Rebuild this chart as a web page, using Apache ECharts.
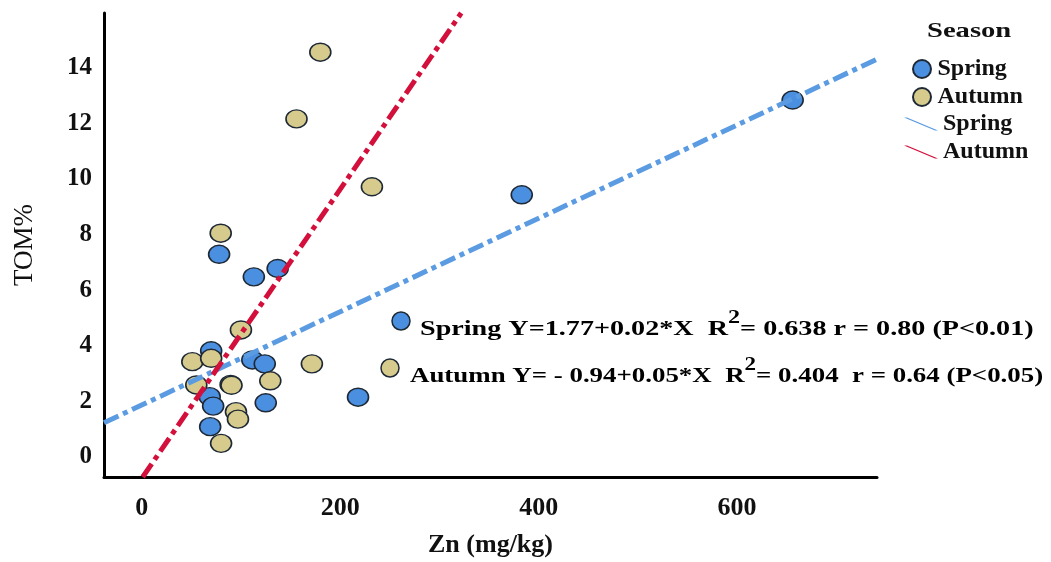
<!DOCTYPE html>
<html>
<head>
<meta charset="utf-8">
<script src="https://cdn.jsdelivr.net/npm/echarts@6/dist/echarts.min.js"></script>
<style>
html,body{margin:0;padding:0;background:#fff}
#chart{width:1051px;height:562px}
</style>
</head>
<body>
<div id="chart"></div>
<script>
// Zn (mg/kg) vs TOM%
var springPoints = [[70,3.82],[111.5,3.49],[124,3.35],[68.5,2.17],[72,1.83],[125,1.95],[69,1.09],[218,2.15],[78,7.29],[113,6.48],[137,6.78],[383,9.43],[656,12.84]];
var autumnPoints = [[100,4.57],[51,3.43],[70,3.55],[55,2.59],[89.6,2.61],[90.5,2.58],[129.6,2.74],[171.5,3.35],[95,1.63],[97,1.36],[80,0.49],[180,14.56],[156,12.16],[232,9.72],[79.6,8.05]];
// fitted lines, end points as drawn
var springFit = [[-38,1.23],[741,14.31]];
var autumnFit = [[1,-0.72],[322,15.97]];
var xTicks = [0,200,400,600];
var yTicks = [0,2,4,6,8,10,12,14];
var springNote = ['Spring Y=1.77+0.02*X  R', '2', '= 0.638 r = 0.80 (P<0.01)'];
var autumnNote = ['Autumn Y= - 0.94+0.05*X  R', '2', '= 0.404  r = 0.64 (P<0.05)'];

var serif = '"Liberation Serif", "Times New Roman", serif';
var blue = '#4a8fe0', tan = '#d6cb8d', edge = '#1e2935';
var blueLine = '#5b9be2', redLine = '#d3103c';

function noteText(parts){
	return '{b|' + parts[0] + '}{s|' + parts[1] + '}{b|' + parts[2] + '}';
}
var noteRich = {
	b: {fontFamily: serif, fontWeight: 'bold', fontSize: 21, color: '#111'},
	s: {fontFamily: serif, fontWeight: 'bold', fontSize: 18, color: '#111', padding: [0,0,24,0]}
};

var chart = echarts.init(document.getElementById('chart'));
chart.setOption({
	animation: false,
	backgroundColor: '#fff',
	grid: {left: 104, right: 174, top: 13, bottom: 85, containLabel: false, outerBoundsMode: 'none'},
	xAxis: {
		type: 'value', min: -38, max: 741,
		name: 'Zn (mg/kg)', nameLocation: 'middle', nameGap: 55,
		nameTextStyle: {fontFamily: serif, fontWeight: 'bold', fontSize: 26, color: '#111'},
		axisLine: {show: true, onZero: false, lineStyle: {color: '#000', width: 3}},
		axisTick: {show: false},
		splitLine: {show: false},
		axisLabel: {customValues: xTicks, margin: 18, fontFamily: serif, fontWeight: 'bold', fontSize: 26, color: '#111'}
	},
	yAxis: {
		type: 'value', min: -0.72, max: 15.97,
		name: 'TOM%', nameLocation: 'middle', nameGap: 66,
		nameTextStyle: {fontFamily: serif, fontSize: 27, color: '#111'},
		axisLine: {show: true, onZero: false, lineStyle: {color: '#000', width: 3}},
		axisTick: {show: false},
		splitLine: {show: false},
		axisLabel: {customValues: yTicks, margin: 12, fontFamily: serif, fontWeight: 'bold', fontSize: 25, color: '#111'}
	},
	legend: [{
		data: ['Spring', 'Autumn'],
		orient: 'vertical', left: 907, top: 52,
		icon: 'circle', itemWidth: 21, itemHeight: 18, itemGap: 4,
		textStyle: {fontFamily: serif, fontWeight: 'bold', fontSize: 24, color: '#111'}
	}, {
		data: ['Spring fit', 'Autumn fit'],
		orient: 'vertical', left: 899, top: 107,
		icon: 'path://M0,0 L3,0 L34,13 L31,13 Z', itemWidth: 34, itemHeight: 13, itemGap: 4,
		formatter: function (n) { return n.replace(' fit', ''); },
		textStyle: {fontFamily: serif, fontWeight: 'bold', fontSize: 24, color: '#111'}
	}],
	graphic: [
		{type: 'text', x: 927, y: 20, scaleX: 1.3, style: {text: 'Season', fontFamily: serif, fontWeight: 'bold', fontSize: 22, fill: '#111'}},
		{type: 'circle', shape: {cx: 401, cy: 321, r: 9}, style: {fill: blue, stroke: edge, lineWidth: 1.5}},
		{type: 'text', x: 420, y: 309, scaleX: 1.34, style: {text: noteText(springNote), rich: noteRich}},
		{type: 'circle', shape: {cx: 390, cy: 368, r: 9}, style: {fill: tan, stroke: edge, lineWidth: 1.5}},
		{type: 'text', x: 410, y: 356, scaleX: 1.28, style: {text: noteText(autumnNote), rich: noteRich}}
	],
	series: [{
		name: 'Spring', type: 'scatter', data: springPoints,
		symbolSize: [21, 18],
		itemStyle: {color: blue, borderColor: edge, borderWidth: 1.5, opacity: 1}
	}, {
		name: 'Autumn', type: 'scatter', data: autumnPoints,
		symbolSize: [21, 18],
		itemStyle: {color: tan, borderColor: edge, borderWidth: 1.5, opacity: 1}
	}, {
		name: 'Spring fit', type: 'line', data: springFit, z: 4,
		symbol: 'none', color: blueLine,
		lineStyle: {color: blueLine, width: 5, type: [16, 5, 5, 5]}
	}, {
		name: 'Autumn fit', type: 'line', data: autumnFit, z: 4,
		symbol: 'none', color: redLine,
		lineStyle: {color: redLine, width: 5, type: [16, 5, 5, 5]}
	}]
});
</script>
</body>
</html>
